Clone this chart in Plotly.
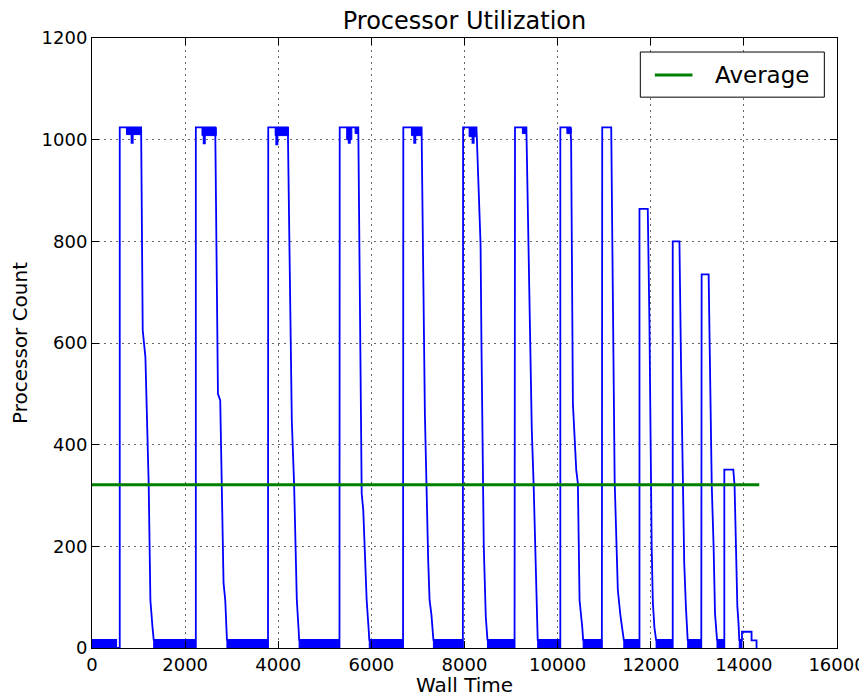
import plotly.graph_objects as go

# ---------------- data ----------------
rise_times = [596, 2230, 3785, 5320, 6686, 7970, 9085, 10058, 10958, 11758, 12472, 13093, 13580]
peak_values = [1024, 1024, 1024, 1024, 1024, 1024, 1024, 1024, 1024, 864, 800, 735, 351]

fall_times = [
    [1055, 1089, 1147, 1218, 1239, 1254, 1300, 1325],
    [2647, 2705, 2754, 2790, 2825, 2862, 2890, 2898],
    [4206, 4291, 4341, 4399, 4440, 4448],
    [5719, 5792, 5826, 5899, 5945, 5955],
    [7078, 7149, 7220, 7250, 7290, 7325, 7332],
    [8257, 8290, 8320, 8345, 8364, 8386, 8414, 8457, 8493],
    [9329, 9363, 9400, 9445, 9485, 9540, 9560, 9572],
    [10272, 10290, 10328, 10400, 10435, 10471, 10530, 10548],
    [11151, 11190, 11225, 11293, 11351, 11421],
    [11936, 11972, 12005, 12020, 12045, 12079, 12115],
    [12616, 12650, 12687, 12719, 12755, 12793],
    [13243, 13294, 13310, 13350, 13380, 13423],
    [13773, 13800, 13830, 13860, 13885, 13901],
]
fall_values = [
    [1024, 625, 572, 320, 120, 94, 40, 16],
    [1024, 500, 487, 320, 128, 94, 32, 16],
    [1024, 448, 320, 94, 32, 16],
    [1024, 304, 271, 94, 32, 16],
    [1024, 461, 173, 94, 65, 32, 16],
    [1024, 946, 881, 795, 599, 363, 199, 62, 16],
    [1024, 854, 704, 430, 320, 101, 40, 16],
    [1024, 998, 481, 350, 324, 94, 40, 16],
    [1024, 592, 329, 114, 62, 16],
    [864, 638, 320, 199, 90, 40, 16],
    [800, 560, 320, 167, 81, 16],
    [735, 461, 320, 199, 68, 16],
    [351, 320, 199, 81, 49, 16],
]

# low idle bands (processor count flickering 0..16)
band_starts = [0, 1325, 2898, 4448, 5955, 7332, 8493, 9572, 10548, 11421, 12115, 12793, 13423, 13901]
band_ends = [519, 2200, 3780, 5315, 6680, 7965, 9075, 10040, 10950, 11750, 12465, 13085, 13575, 13959]
band_level = 16

# tail after last burst
tail_times = [13959, 14165, 14272]
tail_values = [32, 15, 0]

# noisy regions at the top of the bursts
noise_start = [740, 2362, 3934, 5470, 5650, 6860, 8099, 9243, 10199]
noise_end = [1055, 2669, 4219, 5580, 5719, 7078, 8242, 9329, 10293]
noise_low = [1010, 1008, 1008, 1000, 1012, 1008, 1006, 1012, 1012]
noise_top = 1024
dip_times = [862, 2411, 3970, 5526, 6932, 8185]
dip_values = [992, 991, 989, 992, 992, 992]

average_value = 321
average_span = [0, 14330]

x_ticks = [0, 2000, 4000, 6000, 8000, 10000, 12000, 14000, 16000]
y_ticks = [0, 200, 400, 600, 800, 1000, 1200]

# ---------------- build traces ----------------
BLUE = "#0000ff"
GREEN = "#008000"
xs, ys = [], []
for k in range(len(rise_times)):
    xs += [band_starts[k], band_ends[k], band_ends[k], rise_times[k], rise_times[k]]
    ys += [band_level, band_level, 0, 0, peak_values[k]]
    xs += fall_times[k]
    ys += fall_values[k]
xs += [band_starts[-1], band_ends[-1]]
ys += [band_level, band_level]
prev = band_level
for t, v in zip(tail_times, tail_values):
    xs += [t, t]
    ys += [prev, v]
    prev = v

bx, by = [], []
for s, e in zip(band_starts, band_ends):
    bx += [s, s, e, e, s, None]
    by += [0, band_level, band_level, 0, 0, None]

nx, ny = [], []
for s, e, lo in zip(noise_start, noise_end, noise_low):
    nx += [s, s, e, e, s, None]
    ny += [lo, noise_top, noise_top, lo, lo, None]

dx, dy = [], []
for t, v in zip(dip_times, dip_values):
    dx += [t, t, None]
    dy += [noise_top, v, None]

fig = go.Figure()
fig.add_trace(go.Scatter(x=bx, y=by, mode="lines", fill="toself", fillcolor=BLUE,
                         line=dict(color=BLUE, width=1), showlegend=False, hoverinfo="skip"))
fig.add_trace(go.Scatter(x=nx, y=ny, mode="lines", fill="toself", fillcolor=BLUE,
                         line=dict(color=BLUE, width=1), showlegend=False, hoverinfo="skip"))
fig.add_trace(go.Scatter(x=dx, y=dy, mode="lines", line=dict(color=BLUE, width=3),
                         showlegend=False, hoverinfo="skip"))
fig.add_trace(go.Scatter(x=xs, y=ys, mode="lines", line=dict(color=BLUE, width=1.8),
                         showlegend=False, name="Processors"))
fig.add_trace(go.Scatter(x=average_span, y=[average_value] * 2, mode="lines",
                         line=dict(color=GREEN, width=3), name="Average", showlegend=False))

FONT = "DejaVu Sans"
axis_common = dict(
    showline=True, linecolor="black", linewidth=1, mirror="ticks",
    ticks="inside", ticklen=7, tickcolor="black", automargin=False,
    showgrid=True, gridcolor="#666666", griddash="2px,4px", gridwidth=1,
    zeroline=False, tickfont=dict(family=FONT, size=18, color="black"),
)
fig.update_xaxes(range=[0, 16000], tickvals=x_ticks, ticktext=[str(v) for v in x_ticks],
                 title=dict(text="Wall Time", font=dict(family=FONT, size=20, color="black"), standoff=2),
                 **axis_common)
fig.update_yaxes(range=[0, 1200], tickvals=y_ticks, ticktext=[str(v) for v in y_ticks],
                 title=dict(text="Processor Count", font=dict(family=FONT, size=20, color="black"), standoff=8),
                 **axis_common)

# legend box drawn as in the reference (frame, green sample line, label)
fig.add_shape(type="rect", xref="paper", yref="paper", x0=0.736, x1=0.983, y0=0.903, y1=0.977,
              line=dict(color="black", width=1), fillcolor="white", layer="above")
fig.add_shape(type="line", xref="paper", yref="paper", x0=0.7555, x1=0.806, y0=0.9395, y1=0.9395,
              line=dict(color=GREEN, width=3), layer="above")
fig.add_annotation(text="Average", xref="paper", yref="paper", x=0.833, y=0.9395,
                   xanchor="left", yanchor="middle", showarrow=False,
                   font=dict(family=FONT, size=23, color="black"))

# the page body adds an 8px offset, so the figure is sized to fill the rest of the window
fig.update_layout(
    width=859, height=689,
    margin=dict(l=83.5, r=29.5, t=30, b=49),
    paper_bgcolor="white", plot_bgcolor="white",
    title=dict(text="Processor Utilization", x=0.5, xref="paper", xanchor="center",
               y=1, yref="paper", yanchor="bottom", pad=dict(b=9),
               font=dict(family=FONT, size=24, color="black")),
    showlegend=False,
    font=dict(family=FONT),
)

fig.write_html("out.html")
